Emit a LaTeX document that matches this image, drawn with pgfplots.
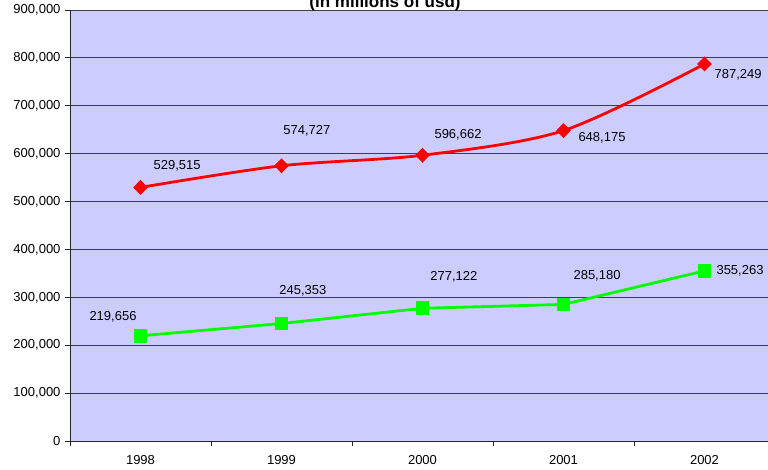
\documentclass[border=0pt]{standalone}
\usepackage{pgfplots}
\pgfplotsset{compat=1.18}
\usepackage{fontspec}
\setmainfont{Liberation Sans}
\definecolor{bgc}{HTML}{CCCCFF}
\definecolor{redl}{HTML}{FF0000}
\definecolor{greenl}{HTML}{00FF00}
\begin{document}
\begin{tikzpicture}[x=1pt,y=1pt]
\useasboundingbox (0,0) rectangle (768,470);
\clip (0,0) rectangle (768,470);
\begin{axis}[
  at={(70pt,29pt)}, anchor=south west,
  scale only axis, width=705pt, height=431pt,
  xmin=-0.5, xmax=4.5, ymin=0, ymax=900000,
  axis x line*=bottom, axis y line*=left,
  axis line style={black!85, line width=0.9pt},
  axis background/.style={fill=bgc},
  ytick={0,100000,...,900000},
  scaled y ticks=false,
  /pgf/number format/fixed,
  /pgf/number format/1000 sep={,},
  /pgf/number format/assume math mode=true,
  ymajorgrids, grid style={black!75, line width=0.8pt},
  xtick={0,1,2,3,4}, xticklabels={1998,1999,2000,2001,2002},
  major x tick style={draw=none},
  minor xtick={-0.5,0.5,1.5,2.5,3.5,4.5},
  minor x tick style={black!85, line width=0.9pt},
  minor tick length=5pt,
  tick align=outside, major tick length=5pt,
  major y tick style={black!85, line width=0.9pt},
  tick label style={font=\fontsize{13}{15}\selectfont},
  xticklabel style={yshift=-6pt},
  yticklabel style={xshift=-1pt},
  clip=false,
]
\addplot[redl, line width=2.8pt, smooth, mark=diamond*, mark size=5.5pt, mark options={solid, fill=redl, xscale=1.3}]
  coordinates {(0,529515) (1,574727) (2,596662) (3,648175) (4,787249)};
\addplot[greenl, line width=2.8pt, sharp plot, mark=square*, mark size=5.5pt, mark options={solid, fill=greenl}]
  coordinates {(0,219656) (1,245353) (2,277122) (3,285180) (4,355263)};
\begin{scope}[every node/.style={font=\fontsize{13}{15}\selectfont, inner sep=0pt}]
\node at (axis cs:0.26,574000) {529,515};
\node at (axis cs:1.18,648000) {574,727};
\node at (axis cs:2.252,639000) {596,662};
\node at (axis cs:3.273,633000) {648,175};
\node at (axis cs:4.238,765000) {787,249};
\node at (axis cs:-0.195,259000) {219,656};
\node at (axis cs:1.152,313000) {245,353};
\node at (axis cs:2.223,342000) {277,122};
\node at (axis cs:3.238,345500) {285,180};
\node at (axis cs:4.252,355000) {355,263};
\end{scope}
\end{axis}
\node[font=\bfseries\fontsize{17}{19}\selectfont, anchor=base] at (385,462) {(in millions of usd)};
\end{tikzpicture}
\end{document}
